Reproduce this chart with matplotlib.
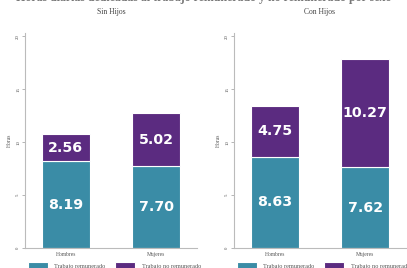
import matplotlib
matplotlib.use("Agg")
import matplotlib.pyplot as plt
import numpy as np

categories = ["Hombres", "Mujeres"]
panels = ["Sin Hijos", "Con Hijos"]
remunerado = {"Sin Hijos": [8.19, 7.70], "Con Hijos": [8.63, 7.62]}
no_remunerado = {"Sin Hijos": [2.56, 5.02], "Con Hijos": [4.75, 10.27]}
series_names = ["Trabajo remunerado", "Trabajo no remunerado"]
yticks = [0, 5, 10, 15, 20]

teal = "#3a8ca6"
purple = "#5b2b80"
serif = ["Liberation Serif", "DejaVu Serif"]

fig = plt.figure(figsize=(4.07, 2.68), dpi=100)
fig.text(0.5, 1 - 1.5 / 268, "Horas diarias dedicadas al trabajo remunerado y no remunerado por sexo",
         ha="center", va="baseline", fontsize=8.6, color="#777777", family=serif, fontweight="bold")

positions = [[25 / 407, 20 / 268, 172 / 407, 215 / 268],
             [234 / 407, 20 / 268, 172 / 407, 215 / 268]]

for i, panel in enumerate(panels):
    ax = fig.add_axes(positions[i])
    x = np.arange(len(categories))
    r = remunerado[panel]
    n = no_remunerado[panel]
    ax.bar(x, r, width=0.53, color=teal, edgecolor="white", linewidth=0.8,
           label=series_names[0])
    ax.bar(x, n, bottom=r, width=0.53, color=purple, edgecolor="white", linewidth=0.8,
           label=series_names[1])
    for xi, rv, nv in zip(x, r, n):
        ax.text(xi, rv / 2, f"{rv:.2f}", ha="center", va="center", color="white",
                fontsize=10.2, fontweight="bold", family="DejaVu Sans")
        ax.text(xi, rv + nv / 2, f"{nv:.2f}", ha="center", va="center", color="white",
                fontsize=10.2, fontweight="bold", family="DejaVu Sans")
    ax.set_ylim(0, 20.3)
    ax.set_xlim(-0.45, 1.45)
    ax.set_yticks(yticks)
    ax.set_yticklabels([str(t) for t in yticks], rotation=90, va="center",
                       fontsize=3.5, family=serif, color="#555555")
    ax.set_xticks(x)
    ax.set_xticklabels(categories, fontsize=4, family=serif, color="#555555")
    ax.tick_params(axis="y", length=2, width=0.5, colors="#999999", pad=1.5, labelcolor="#555555")
    ax.tick_params(axis="x", length=0, pad=3)
    ax.set_ylabel("Horas", fontsize=4, family=serif, color="#555555", labelpad=3)
    for s in ["top", "right"]:
        ax.spines[s].set_visible(False)
    for s in ["left", "bottom"]:
        ax.spines[s].set_color("#bbbbbb")
        ax.spines[s].set_linewidth(0.8)
    ax.set_title(panel, fontsize=5.5, family=serif, color="#444444", pad=14)
    leg = ax.legend(loc="center", bbox_to_anchor=(0.52, -0.082), ncol=2, frameon=False,
                    handlelength=3.2, handleheight=1.3, handletextpad=1.0,
                    columnspacing=1.6, prop={"family": serif, "size": 4.5})
    for t in leg.get_texts():
        t.set_color("#555555")

fig.savefig("out.png", dpi=100)
